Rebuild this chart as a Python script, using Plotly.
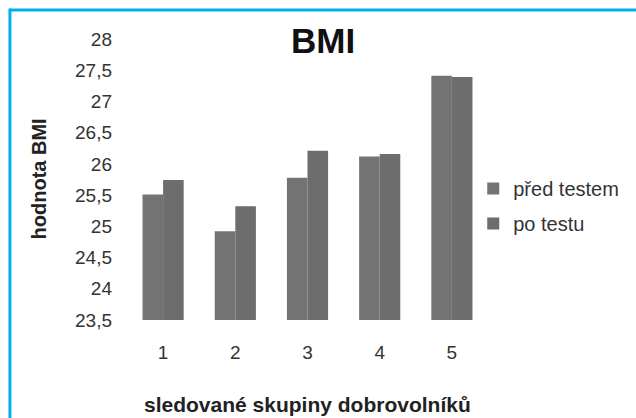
import plotly.graph_objects as go

groups = ["1", "2", "3", "4", "5"]
before = [25.51, 24.92, 25.78, 26.12, 27.41]
after = [25.74, 25.32, 26.21, 26.16, 27.39]
series_names = ["před testem", "po testu"]
ytick_vals = [23.5, 24, 24.5, 25, 25.5, 26, 26.5, 27, 27.5, 28]
ytick_text = ["23,5", "24", "24,5", "25", "25,5", "26", "26,5", "27", "27,5", "28"]

W, H = 636, 418
L, R, T, B = 127, 142, 39, 98
pw, ph = W - L - R, H - T - B

def px(x):
    return (x - L) / pw

def py(y):
    return (H - B - y) / ph

fig = go.Figure()
fig.add_trace(go.Bar(x=groups, y=before, name=series_names[0], marker_color="#737373",
                     marker_line_width=0, legendgroup="a"))
fig.add_trace(go.Bar(x=groups, y=after, name=series_names[1], marker_color="#6d6d6d",
                     marker_line_width=0, legendgroup="b"))

fig.update_layout(
    width=W, height=H,
    margin=dict(l=L, r=R, t=T, b=B, pad=0),
    paper_bgcolor="white", plot_bgcolor="white",
    barmode="group", bargap=0.43, bargroupgap=0,
    font=dict(family="Liberation Sans, Arial, sans-serif", color="#333333"),
    showlegend=True,
    legend=dict(x=px(479), y=py(169), xanchor="left", yanchor="top",
                font=dict(size=20, color="#333333"), tracegroupgap=6,
                bgcolor="rgba(0,0,0,0)"),
    xaxis=dict(showgrid=False, showline=False, zeroline=False, ticks="",
               tickfont=dict(size=19, color="#333333"), ticklabelstandoff=19),
    yaxis=dict(range=[23.5, 28], tickvals=ytick_vals, ticktext=ytick_text,
               showgrid=False, showline=False, zeroline=False, ticks="",
               tickfont=dict(size=19, color="#333333"), ticklabelstandoff=14),
    annotations=[
        dict(text="<b>BMI</b>", x=px(326), y=py(41), xref="paper", yref="paper",
             xanchor="center", yanchor="middle",
             showarrow=False, font=dict(size=35, color="#111111")),
        dict(text="<b>hodnota BMI</b>", x=px(38), y=py(179), xref="paper", yref="paper",
             xanchor="center", yanchor="middle",
             showarrow=False, textangle=-90, font=dict(size=20, color="#222222")),
        dict(text="<b>sledované skupiny dobrovolníků</b>", x=px(311), y=py(404),
             xref="paper", yref="paper", xanchor="center", yanchor="middle",
             showarrow=False, font=dict(size=21, color="#222222")),
    ],
    shapes=[
        dict(type="line", xref="paper", yref="paper", x0=px(8), x1=px(700),
             y0=py(10), y1=py(10), line=dict(color="#00AEEF", width=3)),
        dict(type="line", xref="paper", yref="paper", x0=px(8), x1=px(8),
             y0=py(8.5), y1=py(500), line=dict(color="#00AEEF", width=3)),
    ],
)

fig.write_html("out.html")
